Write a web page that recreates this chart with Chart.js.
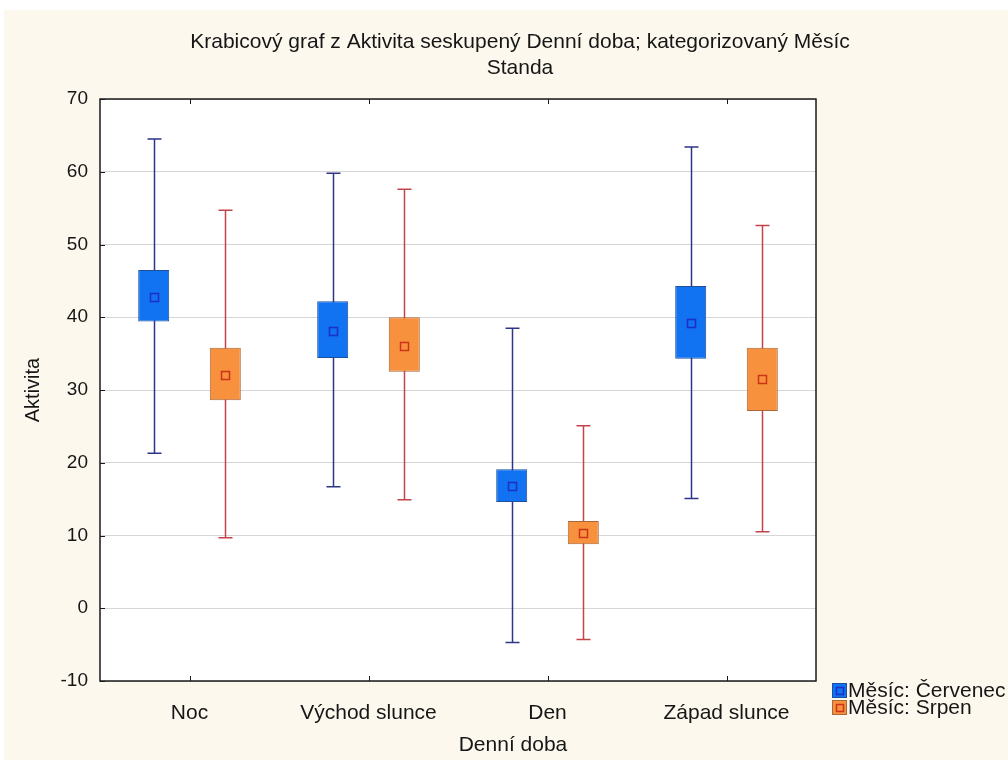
<!DOCTYPE html>
<html>
<head>
<meta charset="utf-8">
<script src="https://cdn.jsdelivr.net/npm/chart.js@4"></script>
<style>
  html, body { margin: 0; padding: 0; background: #ffffff; }
  canvas { display: block; }
</style>
</head>
<body>
<canvas id="chart" width="1008" height="760"></canvas>
<script>
// Categories on the x axis
const categories = ['Noc', 'Východ slunce', 'Den', 'Západ slunce'];
const seriesNames = ['Měsíc: Červenec', 'Měsíc: Srpen'];

// Červenec (July): mean, box range, whisker range
const julMean        = [42.8, 38.1, 16.8, 39.2];
const julBoxLow      = [39.4, 34.4, 14.6, 34.3];
const julBoxHigh     = [46.5, 42.2, 19.1, 44.3];
const julWhiskerLow  = [21.3, 16.7, -4.7, 15.1];
const julWhiskerHigh = [64.5, 59.8, 38.5, 63.4];

// Srpen (August): mean, box range, whisker range
const augMean        = [32.1, 36.1, 10.3, 31.5];
const augBoxLow      = [28.6, 32.5,  8.8, 27.1];
const augBoxHigh     = [35.8, 40.0, 12.0, 35.8];
const augWhiskerLow  = [ 9.7, 14.9, -4.3, 10.5];
const augWhiskerHigh = [54.7, 57.6, 25.1, 52.6];

// Value axis
const yMin = -10;
const yMax = 70;
const yStep = 10;

const titleLines = ['Krabicový graf z Aktivita seskupený Denní doba; kategorizovaný Měsíc', 'Standa'];
const xTitle = 'Denní doba';
const yTitle = 'Aktivita';

const FONT = '"Liberation Sans", Arial, sans-serif';
const TEXT = '#161616';

const styles = [
  { fill: '#1172f2', border: '#1d4f9e', whisker: '#2c3588', mean: '#1f2ec4' },
  { fill: '#f7913e', border: '#a9673a', whisker: '#c2434a', mean: '#cc3418' }
];

const means = [julMean, augMean];
const wLow  = [julWhiskerLow, augWhiskerLow];
const wHigh = [julWhiskerHigh, augWhiskerHigh];

const zip = (lo, hi) => lo.map((v, i) => [v, hi[i]]);

const boxDecor = {
  id: 'boxDecor',
  beforeDraw(chart) {
    const { ctx, chartArea: a } = chart;
    ctx.save();
    ctx.fillStyle = '#ffffff';
    ctx.fillRect(0, 0, chart.width, chart.height);
    ctx.fillStyle = '#fcf8ee';
    ctx.fillRect(4, 10, chart.width - 4, chart.height - 10);
    ctx.fillStyle = '#ffffff';
    ctx.fillRect(a.left, a.top, a.right - a.left, a.bottom - a.top);
    ctx.restore();
  },
  beforeDatasetsDraw(chart) {
    // whiskers with end caps, behind the boxes
    const { ctx } = chart;
    const ys = chart.scales.y;
    ctx.save();
    ctx.lineWidth = 1.5;
    for (let d = 0; d < 2; d++) {
      const meta = chart.getDatasetMeta(d);
      ctx.strokeStyle = styles[d].whisker;
      meta.data.forEach((bar, i) => {
        const x = Math.round(bar.x) + 0.5;
        const yh = ys.getPixelForValue(wHigh[d][i]);
        const yl = ys.getPixelForValue(wLow[d][i]);
        ctx.beginPath();
        ctx.moveTo(x, yh); ctx.lineTo(x, yl);
        ctx.moveTo(x - 7, yh); ctx.lineTo(x + 7, yh);
        ctx.moveTo(x - 7, yl); ctx.lineTo(x + 7, yl);
        ctx.stroke();
      });
    }
    ctx.restore();
  },
  afterDatasetsDraw(chart) {
    // mean markers
    const { ctx } = chart;
    const ys = chart.scales.y;
    ctx.save();
    ctx.lineWidth = 1.5;
    for (let d = 0; d < 2; d++) {
      const meta = chart.getDatasetMeta(d);
      ctx.strokeStyle = styles[d].mean;
      meta.data.forEach((bar, i) => {
        const x = Math.round(bar.x) + 0.5;
        const y = Math.round(ys.getPixelForValue(means[d][i])) + 0.5;
        ctx.strokeRect(x - 4, y - 4, 8, 8);
      });
    }
    ctx.restore();
  },
  afterDraw(chart) {
    const { ctx, chartArea: a } = chart;
    const xs = chart.scales.x;
    const ys = chart.scales.y;
    ctx.save();
    // frame
    ctx.strokeStyle = '#1a1a1a';
    ctx.lineWidth = 1.5;
    ctx.strokeRect(a.left, a.top, a.right - a.left, a.bottom - a.top);
    // inward tick marks
    ctx.lineWidth = 1;
    ctx.beginPath();
    for (let v = yMin; v <= yMax; v += yStep) {
      const y = Math.round(ys.getPixelForValue(v)) + 0.5;
      ctx.moveTo(a.left, y); ctx.lineTo(a.left + 5, y);
    }
    categories.forEach((c, i) => {
      const x = Math.round(xs.getPixelForValue(i)) + 0.5;
      ctx.moveTo(x, a.bottom); ctx.lineTo(x, a.bottom - 5);
      ctx.moveTo(x, a.top); ctx.lineTo(x, a.top + 5);
    });
    ctx.stroke();

    // titles
    ctx.fillStyle = TEXT;
    ctx.font = '21px ' + FONT;
    ctx.textAlign = 'center';
    ctx.textBaseline = 'middle';
    ctx.fillText(titleLines[0], 520, 42);
    ctx.fillText(titleLines[1], 520, 68);
    ctx.fillText(xTitle, 513, 745);

    // legend
    const rows = [690, 707];
    ctx.textAlign = 'left';
    seriesNames.forEach((name, d) => {
      const cy = rows[d];
      ctx.fillStyle = styles[d].fill;
      ctx.fillRect(832, cy - 7, 15, 15);
      ctx.strokeStyle = styles[d].border;
      ctx.lineWidth = 1;
      ctx.strokeRect(832.5, cy - 6.5, 14, 14);
      ctx.strokeStyle = styles[d].mean;
      ctx.lineWidth = 1.5;
      ctx.strokeRect(836.5, cy - 2.5, 7, 7);
      ctx.fillStyle = TEXT;
      ctx.font = '21px ' + FONT;
      ctx.fillText(name, 848, cy + 1);
    });
    ctx.restore();
  }
};

new Chart(document.getElementById('chart'), {
  type: 'bar',
  data: {
    labels: categories,
    datasets: [
      {
        label: seriesNames[0],
        data: zip(julBoxLow, julBoxHigh),
        backgroundColor: styles[0].fill,
        borderColor: styles[0].border,
        borderWidth: 1,
        borderSkipped: false
      },
      {
        label: seriesNames[1],
        data: zip(augBoxLow, augBoxHigh),
        backgroundColor: styles[1].fill,
        borderColor: styles[1].border,
        borderWidth: 1,
        borderSkipped: false
      }
    ]
  },
  options: {
    responsive: false,
    devicePixelRatio: 1,
    animation: false,
    categoryPercentage: 0.8,
    barPercentage: 0.433,
    layout: { padding: { top: 99, right: 192, bottom: 0, left: 0 } },
    plugins: {
      legend: { display: false },
      title: { display: false },
      tooltip: { enabled: false }
    },
    scales: {
      x: {
        grid: { display: false },
        border: { display: false },
        ticks: { font: { family: FONT, size: 21 }, color: TEXT, padding: 12, maxRotation: 0 },
        afterFit(s) { s.height = 79; }
      },
      y: {
        min: yMin,
        max: yMax,
        ticks: { stepSize: yStep, font: { family: FONT, size: 19 }, color: TEXT, padding: 12 },
        grid: { color: '#d6d6d6', lineWidth: 1, drawTicks: false },
        border: { display: false },
        title: {
          display: true,
          text: yTitle,
          font: { family: FONT, size: 20 },
          color: TEXT,
          padding: { top: 21, bottom: 0 }
        },
        afterFit(s) { s.width = 100; }
      }
    }
  },
  plugins: [boxDecor]
});
</script>
</body>
</html>
